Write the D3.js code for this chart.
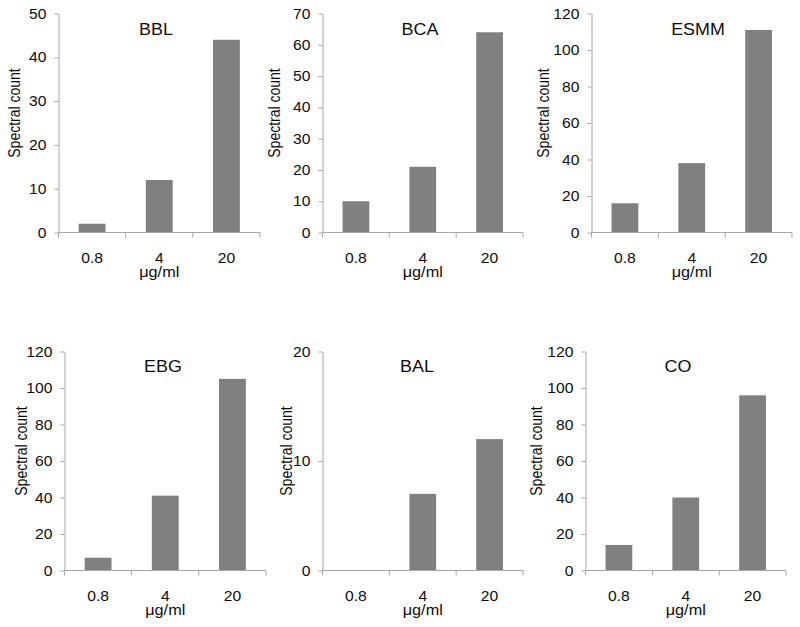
<!DOCTYPE html>
<html>
<head>
<meta charset="utf-8">
<script src="https://cdn.jsdelivr.net/npm/d3@7"></script>
<style>
  html, body { margin: 0; padding: 0; background: #fff; }
  svg { display: block; font-family: "Liberation Sans", Arial, sans-serif; }
</style>
</head>
<body>
<svg id="chart" width="800" height="627"></svg>
<script>
// ---- data ----
const categories = ["0.8", "4", "20"];
const panelTitles = ["BBL", "BCA", "ESMM", "EBG", "BAL", "CO"];
const bblValues  = [2, 12, 44];
const bcaValues  = [10, 21, 64];
const esmmValues = [16, 38, 111];
const ebgValues  = [7, 41, 105];
const balValues  = [0, 7, 12];
const coValues   = [14, 40, 96];
const bblTicks  = [0, 10, 20, 30, 40, 50];
const bcaTicks  = [0, 10, 20, 30, 40, 50, 60, 70];
const esmmTicks = [0, 20, 40, 60, 80, 100, 120];
const ebgTicks  = [0, 20, 40, 60, 80, 100, 120];
const balTicks  = [0, 10, 20];
const coTicks   = [0, 20, 40, 60, 80, 100, 120];
const yAxisTitle = "Spectral count";
const xAxisTitle = "μg/ml";

const seriesValues = [bblValues, bcaValues, esmmValues, ebgValues, balValues, coValues];
const seriesTicks = [bblTicks, bcaTicks, esmmTicks, ebgTicks, balTicks, coTicks];

// ---- layout (pixels) ----
const layout = [
  { x0: 58.5, x1: 260,   y0: 13.5,  y1: 232.5, titleX: 156, titleY: 35,  ylabX: 15 },
  { x0: 322.5, x1: 523,  y0: 13.5,  y1: 232.5, titleX: 420, titleY: 35,  ylabX: 275 },
  { x0: 591.5, x1: 792,  y0: 13.5,  y1: 232.5, titleX: 698, titleY: 35,  ylabX: 543.5 },
  { x0: 64.5, x1: 266,   y0: 351.5, y1: 570.5, titleX: 163, titleY: 372, ylabX: 21.5 },
  { x0: 322.5, x1: 523,  y0: 351.5, y1: 570.5, titleX: 417, titleY: 372, ylabX: 286.5 },
  { x0: 585.5, x1: 786,  y0: 351.5, y1: 570.5, titleX: 678, titleY: 372, ylabX: 537 }
];

const svg = d3.select("#chart");
const textColor = "#0d0d0d";
const axisColor = "#a6a6a6";
const barColor = "#808080";
const SX = 1.12; // horizontal stretch of the lettering in the reference

function stretchedText(parent, x, y, str, size, anchor, rot) {
  return parent.append("text")
    .attr("transform", `translate(${x},${y}) scale(${SX},1)` + (rot ? ` rotate(${rot})` : ""))
    .attr("text-anchor", anchor)
    .attr("font-size", size)
    .attr("fill", textColor)
    .text(str);
}

panelTitles.forEach((title, i) => {
  const L = layout[i];
  const values = seriesValues[i];
  const ticks = seriesTicks[i];
  const g = svg.append("g");

  const x = d3.scaleBand().domain(categories).range([L.x0, L.x1]).paddingInner(0).paddingOuter(0);
  const y = d3.scaleLinear().domain([0, d3.max(ticks)]).range([L.y1, L.y0]);

  // bars
  const barW = x.bandwidth() * 0.4;
  g.selectAll("rect.bar").data(values).join("rect")
    .attr("class", "bar")
    .attr("x", (d, j) => x(categories[j]) + (x.bandwidth() - barW) / 2)
    .attr("y", d => y(d))
    .attr("width", barW)
    .attr("height", d => y(0) - y(d))
    .attr("fill", barColor);

  // y axis (line + ticks via d3.axisLeft, labels drawn stretched)
  const yAxis = d3.axisLeft(y).tickValues(ticks).tickSize(4).tickSizeOuter(0).tickFormat("");
  const gy = g.append("g").attr("transform", `translate(${L.x0},0)`).call(yAxis);
  gy.select(".domain").attr("stroke", axisColor);
  gy.selectAll(".tick line").attr("stroke", axisColor);
  ticks.forEach(t => {
    stretchedText(g, L.x0 - 12, y(t) + 5, d3.format("d")(t), 14, "end");
  });

  // x axis with ticks at category boundaries
  const bounds = categories.map(c => x(c)).concat([L.x1]);
  g.append("line")
    .attr("x1", L.x0).attr("x2", L.x1).attr("y1", y(0)).attr("y2", y(0))
    .attr("stroke", axisColor);
  g.selectAll("line.xtick").data(bounds).join("line")
    .attr("class", "xtick")
    .attr("x1", d => d).attr("x2", d => d)
    .attr("y1", y(0)).attr("y2", y(0) + 5)
    .attr("stroke", axisColor);
  categories.forEach(c => {
    stretchedText(g, x(c) + x.bandwidth() / 2, y(0) + 30, c, 14, "middle");
  });

  // x axis title
  stretchedText(g, (L.x0 + L.x1) / 2, y(0) + 44.5, xAxisTitle, 14.5, "middle");

  // y axis title
  const ycen = (L.y0 + L.y1) / 2 - 10;
  stretchedText(g, L.ylabX + 5, ycen, yAxisTitle, 14, "middle", -90);

  // panel title
  stretchedText(g, L.titleX, L.titleY, title, 16, "middle");
});
</script>
</body>
</html>
